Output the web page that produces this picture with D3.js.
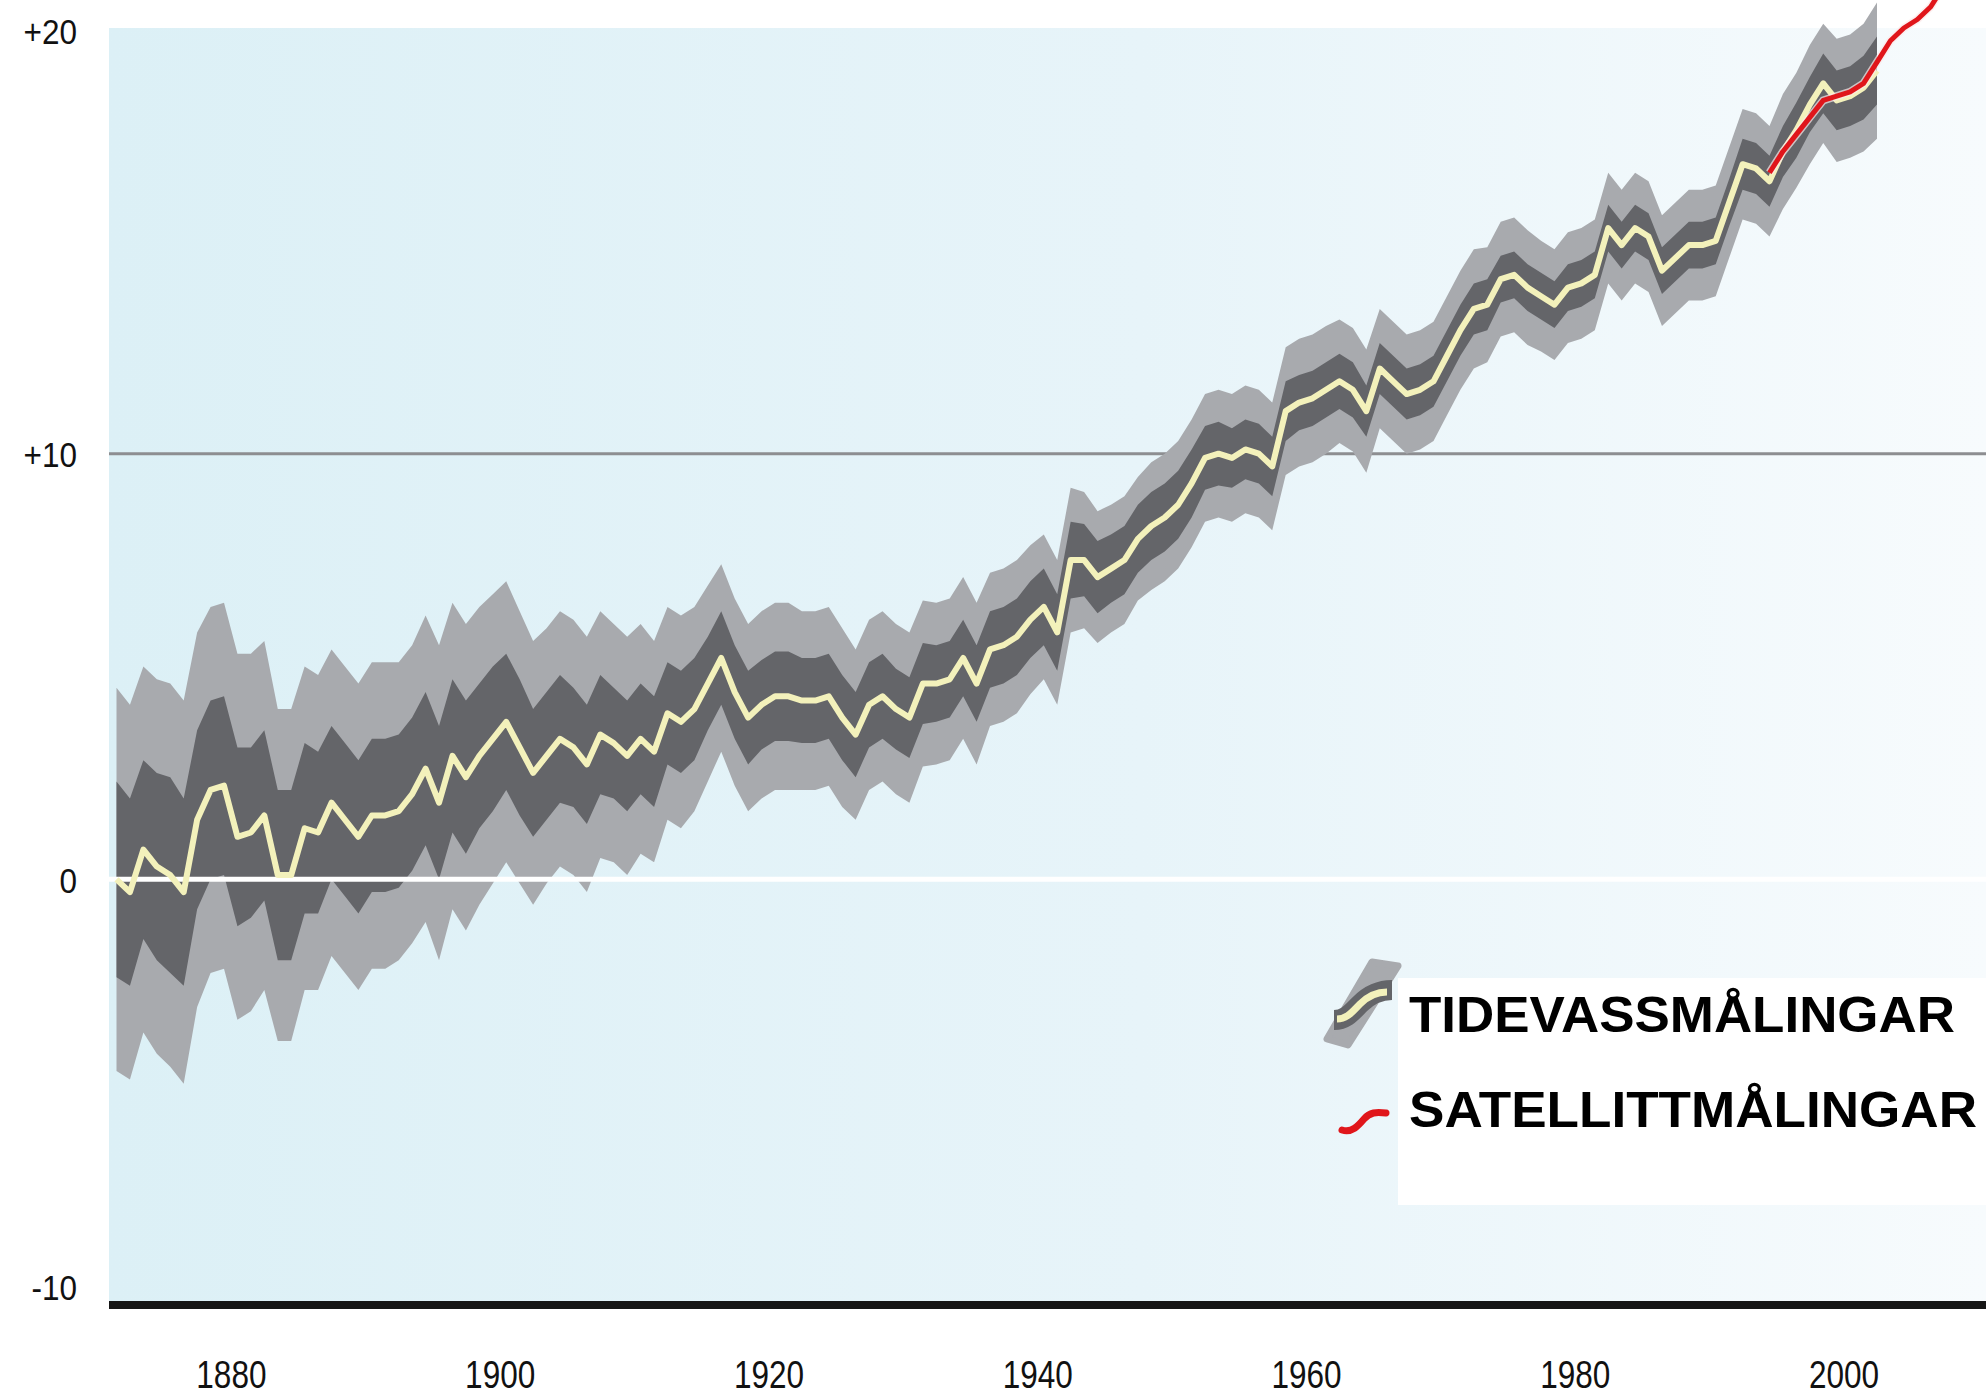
<!DOCTYPE html>
<html>
<head>
<meta charset="utf-8">
<script src="https://cdn.jsdelivr.net/npm/d3@7/dist/d3.min.js"></script>
<style>
  body { margin: 0; background: #fff; }
  svg { display: block; }
</style>
</head>
<body>
<script>
// tide gauge record, one value per year from firstYear
const firstYear = 1870;
const tideMean = [
  0.0, -0.3, 0.7, 0.3, 0.1, -0.3, 1.4, 2.1, 2.2, 1.0,
  1.1, 1.5, 0.1, 0.1, 1.2, 1.1, 1.8, 1.4, 1.0, 1.5,
  1.5, 1.6, 2.0, 2.6, 1.8, 2.9, 2.4, 2.9, 3.3, 3.7,
  3.1, 2.5, 2.9, 3.3, 3.1, 2.7, 3.4, 3.2, 2.9, 3.3,
  3.0, 3.9, 3.7, 4.0, 4.6, 5.2, 4.4, 3.8, 4.1, 4.3,
  4.3, 4.2, 4.2, 4.3, 3.8, 3.4, 4.1, 4.3, 4.0, 3.8,
  4.6, 4.6, 4.7, 5.2, 4.6, 5.4, 5.5, 5.7, 6.1, 6.4,
  5.8, 7.5, 7.5, 7.1, 7.3, 7.5, 8.0, 8.3, 8.5, 8.8,
  9.3, 9.9, 10.0, 9.9, 10.1, 10.0, 9.7, 11.0, 11.2, 11.3,
  11.5, 11.7, 11.5, 11.0, 12.0, 11.7, 11.4, 11.5, 11.7, 12.3,
  12.9, 13.4, 13.5, 14.1, 14.2, 13.9, 13.7, 13.5, 13.9, 14.0,
  14.2, 15.3, 14.9, 15.3, 15.1, 14.3, 14.6, 14.9, 14.9, 15.0,
  15.9, 16.8, 16.7, 16.4, 17.1, 17.6, 18.2, 18.7, 18.3, 18.4,
  18.6, 19.0
];
// half width of the inner (dark) band
const tideDarkErr = [
  2.3, 2.2, 2.1, 2.2, 2.3, 2.2, 2.1, 2.1, 2.1, 2.1,
  2.0, 2.0, 2.0, 2.0, 2.0, 1.9, 1.8, 1.8, 1.8, 1.8,
  1.8, 1.8, 1.8, 1.8, 1.8, 1.8, 1.8, 1.7, 1.7, 1.6,
  1.6, 1.5, 1.5, 1.5, 1.4, 1.4, 1.4, 1.3, 1.3, 1.3,
  1.3, 1.2, 1.2, 1.2, 1.1, 1.1, 1.1, 1.1, 1.05, 1.05,
  1.05, 1.0, 1.0, 1.0, 1.0, 1.0, 1.0, 1.0, 0.95, 0.95,
  0.95, 0.9, 0.9, 0.9, 0.9, 0.9, 0.9, 0.9, 0.9, 0.9,
  0.9, 0.9, 0.85, 0.85, 0.8, 0.8, 0.8, 0.8, 0.8, 0.8,
  0.8, 0.75, 0.75, 0.7, 0.7, 0.7, 0.7, 0.7, 0.65, 0.65,
  0.65, 0.65, 0.65, 0.6, 0.6, 0.6, 0.6, 0.6, 0.6, 0.6,
  0.6, 0.6, 0.6, 0.55, 0.55, 0.55, 0.55, 0.55, 0.55, 0.55,
  0.55, 0.55, 0.55, 0.55, 0.55, 0.55, 0.55, 0.55, 0.55, 0.55,
  0.55, 0.6, 0.6, 0.6, 0.6, 0.65, 0.65, 0.7, 0.7, 0.7,
  0.75, 0.8
];
// half width of the outer (light) band
const tideLightErr = [
  4.5, 4.4, 4.3, 4.4, 4.5, 4.5, 4.4, 4.3, 4.3, 4.3,
  4.2, 4.1, 3.9, 3.9, 3.8, 3.7, 3.6, 3.6, 3.6, 3.6,
  3.6, 3.5, 3.5, 3.6, 3.7, 3.6, 3.6, 3.5, 3.4, 3.3,
  3.2, 3.1, 3.0, 3.0, 3.0, 3.0, 2.9, 2.8, 2.8, 2.7,
  2.6, 2.5, 2.5, 2.4, 2.3, 2.2, 2.2, 2.2, 2.2, 2.2,
  2.2, 2.1, 2.1, 2.1, 2.1, 2.0, 2.0, 2.0, 2.0, 2.0,
  1.95, 1.9, 1.9, 1.9, 1.9, 1.8, 1.8, 1.8, 1.75, 1.7,
  1.7, 1.7, 1.6, 1.55, 1.5, 1.5, 1.45, 1.5, 1.5, 1.5,
  1.5, 1.5, 1.5, 1.5, 1.5, 1.5, 1.5, 1.5, 1.5, 1.5,
  1.5, 1.45, 1.45, 1.45, 1.4, 1.4, 1.4, 1.4, 1.4, 1.4,
  1.4, 1.4, 1.35, 1.35, 1.35, 1.35, 1.3, 1.3, 1.3, 1.3,
  1.3, 1.3, 1.3, 1.3, 1.3, 1.3, 1.3, 1.3, 1.3, 1.3,
  1.3, 1.3, 1.3, 1.3, 1.35, 1.35, 1.4, 1.4, 1.45, 1.45,
  1.5, 1.6
];
// satellite altimetry
const satYears = [1993, 1994, 1995, 1996, 1997, 1998, 1999, 2000, 2001, 2002, 2003, 2004, 2005, 2006, 2007];
const satValues = [16.6, 17.1, 17.5, 17.9, 18.3, 18.4, 18.5, 18.7, 19.2, 19.7, 20.0, 20.2, 20.5, 21.0, 21.4];

const yTicks = [-10, 0, 10, 20];
const xTicks = [1880, 1900, 1920, 1940, 1960, 1980, 2000];
const legendLabels = ['TIDEVASSMÅLINGAR', 'SATELLITTMÅLINGAR'];

const width = 1986, height = 1397;
const plotLeft = 109;

const tide = tideMean.map((v, i) => ({
  year: firstYear + i, mean: v, dark: tideDarkErr[i], light: tideLightErr[i]
}));
const sat = satYears.map((yr, i) => ({ year: yr, value: satValues[i] }));

const x = d3.scaleLinear().domain([1870, 2001]).range([116.5, 1877]);
const y = d3.scaleLinear().domain([-10, 20]).range([1305, 28]);

const svg = d3.select('body').append('svg')
  .attr('width', width)
  .attr('height', height);

const grad = svg.append('defs').append('linearGradient')
  .attr('id', 'bg').attr('x1', '0%').attr('x2', '100%').attr('y1', '0%').attr('y2', '0%');
grad.append('stop').attr('offset', '0%').attr('stop-color', '#dcf0f6');
grad.append('stop').attr('offset', '55%').attr('stop-color', '#e7f4f9');
grad.append('stop').attr('offset', '100%').attr('stop-color', '#f7fbfd');

// plot background
svg.append('rect')
  .attr('x', plotLeft).attr('y', y(20))
  .attr('width', width - plotLeft).attr('height', y(-10) - y(20))
  .attr('fill', 'url(#bg)');

// +10 reference line (under the bands)
svg.append('line')
  .attr('x1', plotLeft).attr('x2', width)
  .attr('y1', y(10)).attr('y2', y(10))
  .attr('stroke', '#8d8e91').attr('stroke-width', 3);

const lightArea = d3.area()
  .x(d => x(d.year))
  .y0(d => y(d.mean - d.light))
  .y1(d => y(d.mean + d.light));
const darkArea = d3.area()
  .x(d => x(d.year))
  .y0(d => y(d.mean - d.dark))
  .y1(d => y(d.mean + d.dark));

svg.append('path').datum(tide).attr('d', lightArea).attr('fill', '#a8aaae');
svg.append('path').datum(tide).attr('d', darkArea).attr('fill', '#646569');

// zero line
svg.append('line')
  .attr('x1', plotLeft).attr('x2', width)
  .attr('y1', y(0)).attr('y2', y(0))
  .attr('stroke', '#ffffff').attr('stroke-width', 5);

const tideLine = d3.line().x(d => x(d.year)).y(d => y(d.mean));
svg.append('path').datum(tide)
  .attr('d', tideLine)
  .attr('fill', 'none')
  .attr('stroke', '#f3f1bb')
  .attr('stroke-width', 6)
  .attr('stroke-linejoin', 'round');

const satLine = d3.line().x(d => x(d.year)).y(d => y(d.value));
svg.append('path').datum(sat)
  .attr('d', satLine)
  .attr('fill', 'none')
  .attr('stroke', '#fbeaea')
  .attr('stroke-opacity', 0.7)
  .attr('stroke-width', 8);
svg.append('path').datum(sat)
  .attr('d', satLine)
  .attr('fill', 'none')
  .attr('stroke', '#e0161b')
  .attr('stroke-width', 5)
  .attr('stroke-linejoin', 'round');

// bottom line
svg.append('line')
  .attr('x1', plotLeft).attr('x2', width)
  .attr('y1', y(-10)).attr('y2', y(-10))
  .attr('stroke', '#161616').attr('stroke-width', 8);

const labelFont = '"Liberation Sans", Arial, Helvetica, sans-serif';

// y axis labels
const yAxis = svg.append('g')
  .attr('transform', 'translate(77,0)')
  .call(d3.axisLeft(y).tickValues(yTicks).tickSize(0).tickPadding(0)
    .tickFormat(d => d > 0 ? '+' + d : String(d)));
yAxis.select('.domain').remove();
yAxis.selectAll('text')
  .attr('font-family', labelFont)
  .attr('font-size', 35)
  .attr('fill', '#111')
  .attr('transform', 'scale(0.9,1)')
  .attr('dy', d => d === -10 ? '-0.15em' : (d === 20 ? '0.45em' : '0.38em'));

// x axis labels
const xAxis = svg.append('g')
  .attr('transform', 'translate(-20,0)')
  .call(d3.axisBottom(x).tickValues(xTicks).tickSize(0).tickFormat(d3.format('d')));
xAxis.select('.domain').remove();
xAxis.selectAll('text')
  .attr('y', 1388)
  .attr('dy', 0)
  .attr('font-family', labelFont)
  .attr('font-size', 38)
  .attr('fill', '#111')
  .attr('transform', 'scale(0.83,1)');

// legend
const legend = svg.append('g');
legend.append('rect')
  .attr('x', 1398).attr('y', 978)
  .attr('width', width - 1398).attr('height', 227)
  .attr('fill', '#ffffff');

// tide gauge symbol: tilted grey strip with a dark and a yellow wave
legend.append('path')
  .attr('d', 'M1372,962 L1398,966 L1348,1045 L1327,1039 Z')
  .attr('fill', '#a8aaae').attr('stroke', '#a8aaae')
  .attr('stroke-width', 7).attr('stroke-linejoin', 'round');
legend.append('path')
  .attr('d', 'M1334,1020 C1346,1020 1352,1012 1360,1004 S1378,990 1392,990')
  .attr('fill', 'none').attr('stroke', '#646569').attr('stroke-width', 20);
legend.append('path')
  .attr('d', 'M1337,1019 C1347,1019 1352,1012 1360,1004 S1376,992 1387,992')
  .attr('fill', 'none').attr('stroke', '#f3f1bb').attr('stroke-width', 7);
legend.append('path')
  .attr('d', 'M1342,1130 C1352,1133 1358,1126 1364,1119 S1376,1112 1386,1113')
  .attr('fill', 'none').attr('stroke', '#e0161b').attr('stroke-width', 7)
  .attr('stroke-linecap', 'round');

legend.selectAll('text.leg')
  .data(legendLabels)
  .enter().append('text')
  .attr('class', 'leg')
  .attr('x', 1409)
  .attr('y', (d, i) => 1032 + i * 95)
  .attr('font-family', labelFont)
  .attr('font-weight', 'bold')
  .attr('font-size', 50)
  .attr('fill', '#000')
  .attr('textLength', (d, i) => i === 0 ? 546 : 568)
  .attr('lengthAdjust', 'spacingAndGlyphs')
  .text(d => d);
</script>
</body>
</html>
